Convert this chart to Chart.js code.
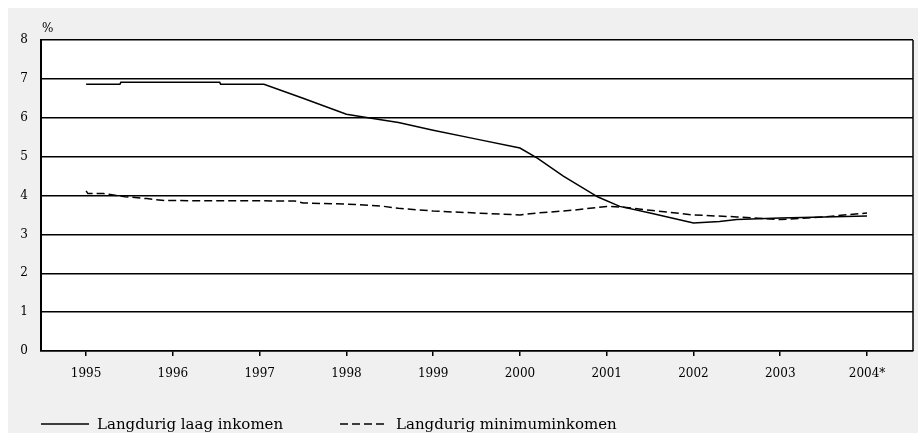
<!DOCTYPE html>
<html>
<head>
<meta charset="utf-8">
<script src="https://cdn.jsdelivr.net/npm/chart.js@4.4.1/dist/chart.umd.min.js"></script>
<style>
body { margin: 0; background: #fff; position: relative; width: 918px; height: 433px; overflow: hidden; }
canvas { display: block; }
#legend { position: absolute; left: 0; top: 414px; width: 918px; height: 20px; font-family: "DejaVu Serif", serif; font-size: 15px; color: #000; }
#legend .item { position: absolute; top: 0; white-space: nowrap; line-height: 20px; }
#legend svg { vertical-align: middle; position: relative; top: -1px; }
#legend .lbl { margin-left: 8px; }
</style>
</head>
<body>
<canvas id="incomeChart" width="918" height="433"></canvas>
<div id="legend"></div>
<script>
// tick years on the x axis and their labels
const years = [1995, 1996, 1997, 1998, 1999, 2000, 2001, 2002, 2003, 2004]
const yearLabels = ['1995', '1996', '1997', '1998', '1999', '2000', '2001', '2002', '2003', '2004*']

// Langdurig laag inkomen (%)
const laagX = [1995.0, 1995.39, 1995.4, 1996.54, 1996.55, 1997.05, 1997.5, 1998.0, 1998.25, 1998.6, 1999.0, 1999.5, 2000.0, 2000.2, 2000.5, 2000.9, 2001.15, 2001.5, 2002.0, 2002.3, 2002.5, 2003.0, 2003.5, 2004.0]
const laagY = [6.86, 6.86, 6.91, 6.91, 6.86, 6.86, 6.5, 6.09, 6.0, 5.88, 5.68, 5.45, 5.22, 4.96, 4.5, 3.96, 3.72, 3.55, 3.29, 3.33, 3.38, 3.42, 3.45, 3.47]

// Langdurig minimuminkomen (%)
const minX = [1995.0, 1995.02, 1995.2, 1995.45, 1995.7, 1995.9, 1997.4, 1997.5, 1998.1, 1998.4, 1998.6, 1999.0, 1999.5, 2000.0, 2000.2, 2000.6, 2001.0, 2001.2, 2001.5, 2002.0, 2002.5, 2003.0, 2003.5, 2004.0]
const minY = [4.12, 4.05, 4.05, 3.97, 3.92, 3.87, 3.86, 3.81, 3.77, 3.73, 3.67, 3.60, 3.55, 3.50, 3.55, 3.62, 3.72, 3.70, 3.62, 3.50, 3.45, 3.38, 3.45, 3.55]

const seriesNames = ['Langdurig laag inkomen', 'Langdurig minimuminkomen']

function toPoints(xs, ys){
    return xs.map(function(x, i){ return {x: x, y: ys[i]} })
}

// grey panel, white plot area, right border and the % unit
const framePlugin = {
    id: 'frame',
    beforeDraw: function(chart){
        const ctx = chart.ctx
        const a = chart.chartArea
        ctx.save()
        ctx.fillStyle = '#f0f0f0'
        ctx.fillRect(8, 8, chart.width - 8, chart.height - 8)
        ctx.fillStyle = '#ffffff'
        ctx.fillRect(a.left, a.top, a.right - a.left, a.bottom - a.top)
        ctx.restore()
    },
    afterDraw: function(chart){
        const ctx = chart.ctx
        const a = chart.chartArea
        ctx.save()
        ctx.strokeStyle = '#000'
        ctx.lineWidth = 1.5
        ctx.beginPath()
        ctx.moveTo(a.right, a.top)
        ctx.lineTo(a.right, a.bottom)
        ctx.stroke()
        ctx.fillStyle = '#000'
        ctx.font = '12px "DejaVu Serif"'
        ctx.textBaseline = 'alphabetic'
        ctx.fillText('%', a.left + 1, a.top - 8)
        ctx.restore()
    }
}

const ctx = document.getElementById('incomeChart').getContext('2d')
const myChart = new Chart(ctx, {
    type: 'line',
    data: {
        datasets: [{
            label: seriesNames[0],
            data: toPoints(laagX, laagY),
            borderColor: '#000',
            backgroundColor: '#000',
            borderWidth: 1.5,
            pointRadius: 0,
            tension: 0
        }, {
            label: seriesNames[1],
            data: toPoints(minX, minY),
            borderColor: '#000',
            backgroundColor: '#000',
            borderWidth: 1.5,
            borderDash: [8, 4],
            pointRadius: 0,
            tension: 0
        }]
    },
    options: {
        responsive: false,
        animation: false,
        layout: {
            padding: {left: 0, right: 5, top: 40, bottom: 46}
        },
        scales: {
            x: {
                type: 'linear',
                min: 1994.48,
                max: 2004.53,
                afterBuildTicks: function(axis){
                    axis.ticks = years.map(function(v){ return {value: v} })
                },
                afterFit: function(axis){ axis.height = 36 },
                ticks: {
                    color: '#000',
                    font: {family: 'DejaVu Serif', size: 12},
                    padding: 11,
                    maxRotation: 0,
                    autoSkip: false,
                    callback: function(value, index){ return yearLabels[index] }
                },
                grid: {
                    drawOnChartArea: false,
                    drawTicks: true,
                    tickLength: 5,
                    color: '#000',
                    lineWidth: 1.5
                },
                border: {display: true, color: '#000', width: 1.5}
            },
            y: {
                min: 0,
                max: 8,
                afterFit: function(axis){ axis.width = 41 },
                ticks: {
                    stepSize: 1,
                    color: '#000',
                    font: {family: 'DejaVu Serif', size: 12},
                    padding: 13
                },
                grid: {
                    drawTicks: false,
                    color: '#000',
                    lineWidth: 1.5
                },
                border: {display: true, color: '#000', width: 2}
            }
        },
        plugins: {
            legend: {display: false},
            title: {display: false},
            tooltip: {enabled: false}
        }
    },
    plugins: [framePlugin]
})

// legend under the chart, built from the datasets
function build_legend(chart){
    const lefts = [41, 340]
    let all = ''
    chart.data.datasets.forEach(function(ds, i){
        let dash = (ds.borderDash || []).join(' ')
        let sample = '<svg width="48" height="4"><line x1="0" y1="2" x2="48" y2="2" stroke="' + ds.borderColor +
            '" stroke-width="' + ds.borderWidth + '" stroke-dasharray="' + dash + '"/></svg>'
        all = all + '<span class="item" style="left:' + lefts[i] + 'px">' + sample + '<span class="lbl">' + ds.label + '</span></span>'
    })
    document.getElementById('legend').innerHTML = all
}
build_legend(myChart)
</script>
</body>
</html>
